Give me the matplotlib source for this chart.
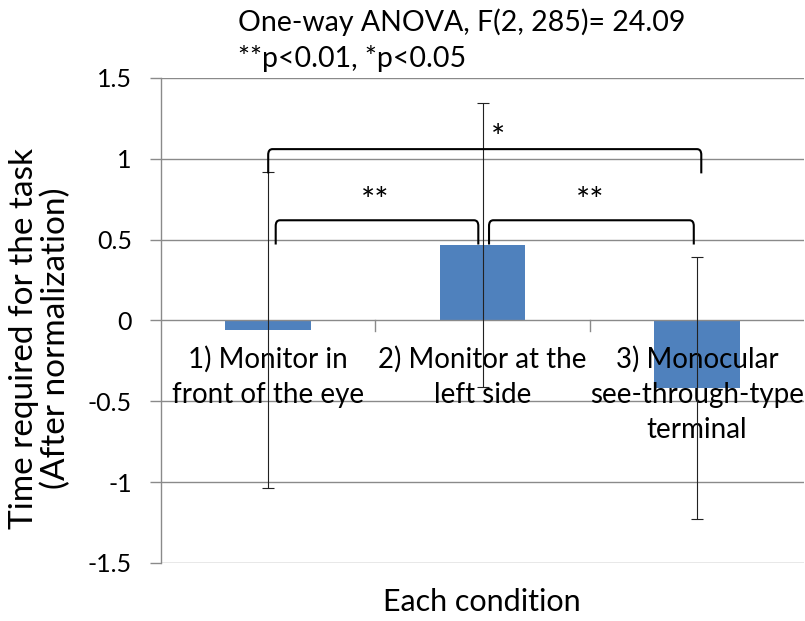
import numpy as np
import matplotlib.pyplot as plt
from matplotlib.path import Path
from matplotlib.patches import PathPatch

plt.rcParams['font.family'] = ['Lato', 'DejaVu Sans']

## data
conditions = ['1) Monitor in\nfront of the eye',
              '2) Monitor at the\nleft side',
              '3) Monocular\nsee-through-type\nterminal']
means = [-0.06, 0.466, -0.416]
errs = [0.978, 0.88, 0.81]
yticks = [-1.5, -1, -0.5, 0, 0.5, 1, 1.5]
ytickLabels = ['-1.5', '-1', '-0.5', '0', '0.5', '1', '1.5']

# significance brackets: (x0, x1, top, bottom, label, labelX, labelY)
brackets = [
    (0.0, 2.02, 1.06, 0.91, '*', 1.07, 1.12),
    (0.035, 0.98, 0.62, 0.47, '**', 0.5, 0.73),
    (1.03, 1.985, 0.62, 0.47, '**', 1.5, 0.73),
]

gridCol = '#8a8a8a'
barCol = '#4f81bd'


def bracketPath(x0, x1, yt, yb, rx=0.02, ry=0.035):
    verts = [(x0, yb), (x0, yt - ry), (x0, yt), (x0 + rx, yt),
             (x1 - rx, yt), (x1, yt), (x1, yt - ry), (x1, yb)]
    codes = [Path.MOVETO, Path.LINETO, Path.CURVE3, Path.CURVE3,
             Path.LINETO, Path.CURVE3, Path.CURVE3, Path.LINETO]
    return Path(verts, codes)


fig = plt.figure(figsize=(8.05, 6.21), dpi=100)
ax = fig.add_axes([0.2, 0.0934, 0.799, 0.7810])

x = np.arange(len(conditions))
ax.set_xlim(-0.5, 2.5)
ax.set_ylim(-1.5, 1.5)

for yv in yticks:
    if yv != 0:
        ax.axhline(yv, color=gridCol, lw=1.0, zorder=0)

ax.bar(x, means, width=0.4, color=barCol, zorder=2)
ax.axhline(0, color=gridCol, lw=1.0, zorder=3)
for xb in [0.5, 1.5]:
    ax.plot([xb, xb], [0, -0.062], color=gridCol, lw=1.0, zorder=3)

ax.errorbar(x, means, yerr=errs, fmt='none', ecolor='#222222',
            elinewidth=0.8, capsize=4, capthick=0.8, zorder=5)

for i, lab in enumerate(conditions):
    ax.text(x[i], -0.155, lab, ha='center', va='top', fontsize=20,
            linespacing=1.45, zorder=4)

for (x0, x1, yt, yb, lab, lx, ly) in brackets:
    ax.add_patch(PathPatch(bracketPath(x0, x1, yt, yb), fill=False,
                           lw=1.5, edgecolor='black', zorder=6))
    ax.text(lx, ly, lab, ha='center', va='center', fontsize=24, zorder=6)

ax.set_xticks([])
ax.set_yticks(yticks)
ax.set_yticklabels(ytickLabels, fontsize=18)
ax.tick_params(axis='y', length=8, width=1.0, color=gridCol, pad=13)

for side in ['top', 'right', 'bottom']:
    ax.spines[side].set_visible(False)
ax.spines['left'].set_color(gridCol)
ax.spines['left'].set_linewidth(1.0)

fig.text(0.05, 0.455, 'Time required for the task\n(After normalization)',
         rotation=90, ha='center', va='center', fontsize=24,
         linespacing=1.05)
fig.text(0.599, 0.031, 'Each condition', ha='center', va='center',
         fontsize=22)
fig.text(0.296, 0.965, 'One-way ANOVA, F(2, 285)= 24.09', ha='left',
         va='center', fontsize=20.5)
fig.text(0.296, 0.906, '**p<0.01, *p<0.05', ha='left', va='center',
         fontsize=20.5)

fig.savefig('out.png', dpi=100)
